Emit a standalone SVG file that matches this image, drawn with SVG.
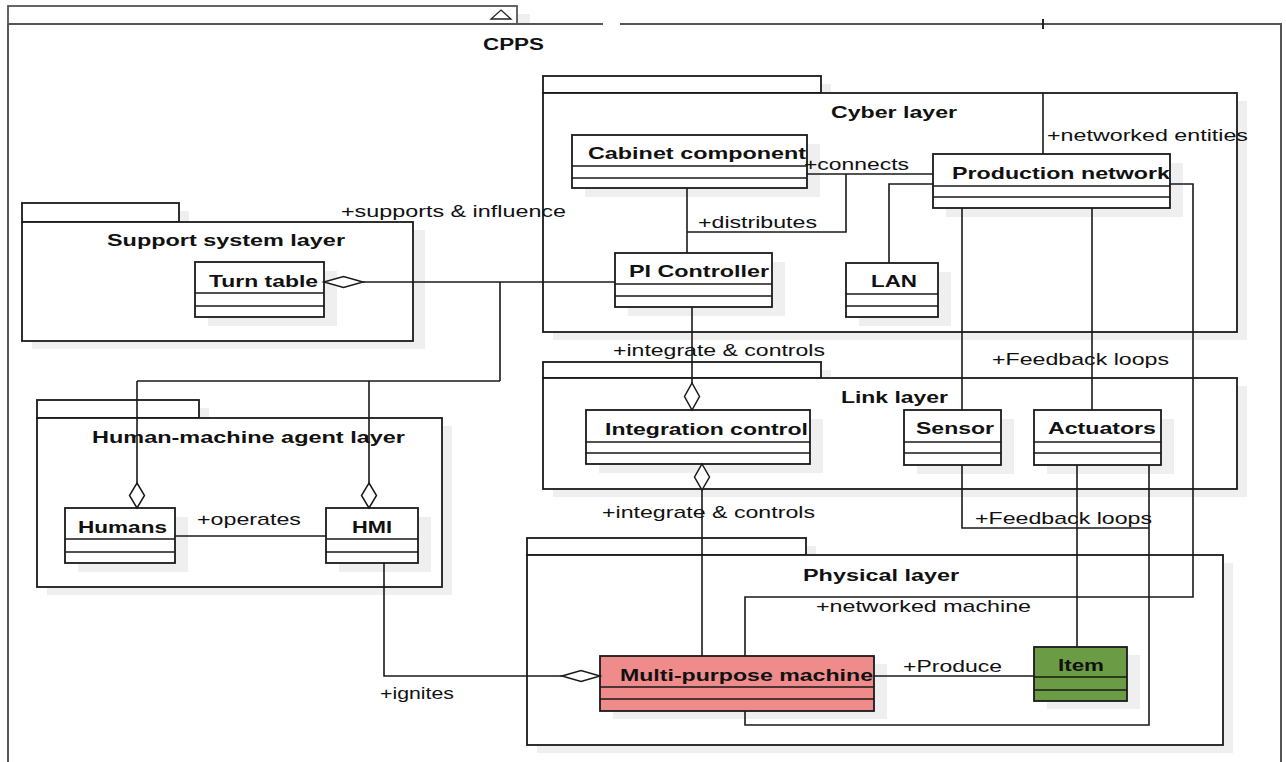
<svg xmlns="http://www.w3.org/2000/svg" width="1286" height="762" viewBox="0 0 1286 762">
<style>
.bg{fill:#ffffff}
.pkg{fill:#ffffff;stroke:#1a1a1a;stroke-width:1.8}
.sh{fill:#efefef;stroke:none}
.cls{fill:#ffffff;stroke:#1a1a1a;stroke-width:1.8}
.div{stroke:#1a1a1a;stroke-width:1.5;fill:none}
.ln{stroke:#1a1a1a;stroke-width:1.6;fill:none}
.dm{fill:#ffffff;stroke:#1a1a1a;stroke-width:1.5}
.outer{stroke:#555555;stroke-width:2;fill:none}
.t{font-family:"Liberation Sans",Arial,sans-serif;font-size:17px;fill:#111111}
.b{font-family:"Liberation Sans",Arial,sans-serif;font-size:17px;font-weight:bold;fill:#111111}
.lb{font-family:"Liberation Sans",Arial,sans-serif;font-size:16px;font-weight:bold;fill:#111111}
</style>
<rect class="bg" x="0" y="0" width="1286" height="762"/>

<g id="cpps">
<rect class="sh" x="517" y="14" width="13" height="9"/>
<rect x="8" y="6" width="509" height="18" fill="#fff" stroke="#555" stroke-width="1.8"/>
<polygon points="491,19 511,19 501,10" fill="#fff" stroke="#222" stroke-width="1.3"/>
<path class="outer" d="M8,24 L603,24 M620,24 L1281,24 L1281,762 M8,24 L8,762"/>
<line x1="1043" y1="19" x2="1043" y2="29" stroke="#222" stroke-width="2"/>
<text class="lb" x="483" y="50" textLength="61" lengthAdjust="spacingAndGlyphs">CPPS</text>
</g>

<g id="cyber-layer">
<path class="sh" d="M553,84 H831 V101 H1247 V340 H553 Z"/>
<rect class="pkg" x="543" y="76" width="278" height="17"/>
<rect class="pkg" x="543" y="93" width="694" height="239"/>
<text class="lb" x="831" y="118" textLength="126" lengthAdjust="spacingAndGlyphs">Cyber layer</text>
</g>

<g id="support-system-layer">
<path class="sh" d="M32,211 H189 V230 H425 V349 H32 Z"/>
<rect class="pkg" x="22" y="203" width="157" height="19"/>
<rect class="pkg" x="22" y="222" width="391" height="119"/>
<text class="lb" x="107" y="246" textLength="238" lengthAdjust="spacingAndGlyphs">Support system layer</text>
</g>

<g id="human-machine-agent-layer">
<path class="sh" d="M47,408 H209 V426 H452 V595 H47 Z"/>
<rect class="pkg" x="37" y="400" width="162" height="18"/>
<rect class="pkg" x="37" y="418" width="405" height="169"/>
<text class="lb" x="92" y="443" textLength="313" lengthAdjust="spacingAndGlyphs">Human-machine agent layer</text>
</g>

<g id="link-layer">
<path class="sh" d="M553,370 H831 V386 H1247 V497 H553 Z"/>
<rect class="pkg" x="543" y="362" width="278" height="16"/>
<rect class="pkg" x="543" y="378" width="694" height="111"/>
<text class="lb" x="841" y="403" textLength="107" lengthAdjust="spacingAndGlyphs">Link layer</text>
</g>

<g id="physical-layer">
<path class="sh" d="M537,546 H816 V563 H1233 V753 H537 Z"/>
<rect class="pkg" x="527" y="538" width="279" height="17"/>
<rect class="pkg" x="527" y="555" width="696" height="190"/>
<text class="lb" x="803" y="581" textLength="156" lengthAdjust="spacingAndGlyphs">Physical layer</text>
</g>

<g id="cabinet-component">
<rect class="sh" x="585" y="144" width="235" height="53"/>
<rect class="cls" x="572" y="135" width="235" height="53"/>
<path class="div" d="M572,166 H807 M572,178 H807"/>
<text class="b" x="588" y="159" textLength="218" lengthAdjust="spacingAndGlyphs">Cabinet component</text>
</g>

<g id="pi-controller">
<rect class="sh" x="628" y="262" width="157" height="54"/>
<rect class="cls" x="615" y="253" width="157" height="54"/>
<path class="div" d="M615,284 H772 M615,296 H772"/>
<text class="b" x="629" y="277" textLength="140" lengthAdjust="spacingAndGlyphs">PI Controller</text>
</g>

<g id="lan">
<rect class="sh" x="859" y="272" width="92" height="54"/>
<rect class="cls" x="846" y="263" width="92" height="54"/>
<path class="div" d="M846,294 H938 M846,306 H938"/>
<text class="b" x="871" y="287" textLength="46" lengthAdjust="spacingAndGlyphs">LAN</text>
</g>

<g id="production-network">
<rect class="sh" x="946" y="163" width="237" height="54"/>
<rect class="cls" x="933" y="154" width="237" height="54"/>
<path class="div" d="M933,186 H1170 M933,197 H1170"/>
<text class="b" x="952" y="179" textLength="218" lengthAdjust="spacingAndGlyphs">Production network</text>
</g>

<g id="turn-table">
<rect class="sh" x="208" y="271" width="129" height="55"/>
<rect class="cls" x="195" y="262" width="129" height="55"/>
<path class="div" d="M195,293 H324 M195,306 H324"/>
<text class="b" x="209" y="287" textLength="109" lengthAdjust="spacingAndGlyphs">Turn table</text>
</g>

<g id="integration-control">
<rect class="sh" x="599" y="419" width="224" height="54"/>
<rect class="cls" x="586" y="410" width="224" height="54"/>
<path class="div" d="M586,442 H810 M586,453 H810"/>
<text class="b" x="605" y="435" textLength="203" lengthAdjust="spacingAndGlyphs">Integration control</text>
</g>

<g id="sensor">
<rect class="sh" x="917" y="419" width="97" height="55"/>
<rect class="cls" x="904" y="410" width="97" height="55"/>
<path class="div" d="M904,442 H1001 M904,453 H1001"/>
<text class="b" x="916" y="434" textLength="78" lengthAdjust="spacingAndGlyphs">Sensor</text>
</g>

<g id="actuators">
<rect class="sh" x="1047" y="419" width="127" height="55"/>
<rect class="cls" x="1034" y="410" width="127" height="55"/>
<path class="div" d="M1034,442 H1161 M1034,453 H1161"/>
<text class="b" x="1048" y="434" textLength="108" lengthAdjust="spacingAndGlyphs">Actuators</text>
</g>

<g id="humans">
<rect class="sh" x="78" y="517" width="110" height="55"/>
<rect class="cls" x="65" y="508" width="110" height="55"/>
<path class="div" d="M65,539 H175 M65,552 H175"/>
<text class="b" x="78" y="533" textLength="89" lengthAdjust="spacingAndGlyphs">Humans</text>
</g>

<g id="hmi">
<rect class="sh" x="339" y="517" width="92" height="55"/>
<rect class="cls" x="326" y="508" width="92" height="55"/>
<path class="div" d="M326,539 H418 M326,552 H418"/>
<text class="b" x="352" y="533" textLength="40" lengthAdjust="spacingAndGlyphs">HMI</text>
</g>

<g id="multi-purpose-machine">
<rect class="sh" x="613" y="664" width="274" height="55"/>
<rect class="cls" x="600" y="656" width="274" height="55" style="fill:#ef8b8b"/>
<path class="div" d="M600,687 H874 M600,699 H874"/>
<text class="b" x="620" y="681" textLength="253" lengthAdjust="spacingAndGlyphs">Multi-purpose machine</text>
</g>

<g id="item">
<rect class="sh" x="1047" y="655" width="93" height="54"/>
<rect class="cls" x="1034" y="647" width="93" height="54" style="fill:#6c9b45"/>
<path class="div" d="M1034,677 H1127 M1034,690 H1127"/>
<text class="b" x="1058" y="671" textLength="46" lengthAdjust="spacingAndGlyphs">Item</text>
</g>

<g id="connectors">
<path class="ln" d="M687,188 V253"/>
<path class="ln" d="M807,174 H933"/>
<path class="ln" d="M687,232 H846 V174"/>
<path class="ln" d="M889,263 V184 H933"/>
<path class="ln" d="M1043,93 V154"/>
<path class="ln" d="M1170,184 H1193 V597 H745 V656"/>
<path class="ln" d="M962,208 V410"/>
<path class="ln" d="M1092,208 V410"/>
<path class="ln" d="M962,465 V528 H1149"/>
<path class="ln" d="M1149,465 V725 H745 V711"/>
<path class="ln" d="M1077,465 V647"/>
<path class="ln" d="M874,676 H1034"/>
<path class="ln" d="M692,307 V383"/>
<polygon class="dm" points="692,383 699.5,396.5 692,410 684.5,396.5"/>
<path class="ln" d="M702,490 V656"/>
<polygon class="dm" points="702,464 709.5,477 702,490 694.5,477"/>
<path class="ln" d="M363,282 H615"/>
<polygon class="dm" points="324,282 343.5,276.5 363,282 343.5,287.5"/>
<path class="ln" d="M500,282 V381 M137,381 H500 M137,381 V483 M369,381 V483"/>
<polygon class="dm" points="137,483 144.5,495.5 137,508 129.5,495.5"/>
<polygon class="dm" points="369,483 376.5,495.5 369,508 361.5,495.5"/>
<path class="ln" d="M175,536 H326"/>
<path class="ln" d="M384,563 V676 H562"/>
<polygon class="dm" points="562,676 581,670.5 600,676 581,681.5"/>
<text class="t" x="1047" y="141" textLength="201" lengthAdjust="spacingAndGlyphs">+networked entities</text>
<text class="t" x="804" y="170" textLength="105" lengthAdjust="spacingAndGlyphs">+connects</text>
<text class="t" x="698" y="228" textLength="119" lengthAdjust="spacingAndGlyphs">+distributes</text>
<text class="t" x="341" y="217" textLength="225" lengthAdjust="spacingAndGlyphs">+supports &amp; influence</text>
<text class="t" x="613" y="356" textLength="212" lengthAdjust="spacingAndGlyphs">+integrate &amp; controls</text>
<text class="t" x="992" y="365" textLength="177" lengthAdjust="spacingAndGlyphs">+Feedback loops</text>
<text class="t" x="975" y="524" textLength="177" lengthAdjust="spacingAndGlyphs">+Feedback loops</text>
<text class="t" x="602" y="518" textLength="213" lengthAdjust="spacingAndGlyphs">+integrate &amp; controls</text>
<text class="t" x="197" y="525" textLength="104" lengthAdjust="spacingAndGlyphs">+operates</text>
<text class="t" x="816" y="612" textLength="215" lengthAdjust="spacingAndGlyphs">+networked machine</text>
<text class="t" x="903" y="672" textLength="99" lengthAdjust="spacingAndGlyphs">+Produce</text>
<text class="t" x="380" y="699" textLength="74" lengthAdjust="spacingAndGlyphs">+ignites</text>
</g>
</svg>
